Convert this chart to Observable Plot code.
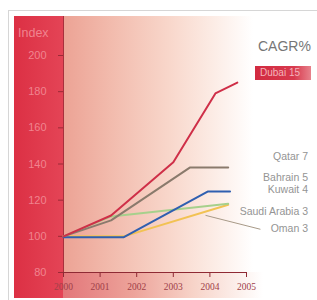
<!DOCTYPE html>
<html><head><meta charset="utf-8">
<script src="https://cdn.jsdelivr.net/npm/d3@7"></script>
<script src="https://cdn.jsdelivr.net/npm/@observablehq/plot@0.6"></script>
<style>
body{margin:0;background:#fff;}
#wrap{position:relative;width:317px;height:300px;overflow:hidden;font-family:"Liberation Sans",Arial,sans-serif;}
.bg{position:absolute;box-sizing:border-box;}
#frame{left:8px;top:10px;width:320px;height:300px;border:1px solid #d6d6d6;}
#strip{left:14px;top:16px;width:49px;height:282px;background:linear-gradient(to right,#dc3044,#e44456);}
#plotbg{left:63px;top:16px;width:190px;height:256px;border-left:1px solid #a8303c;background:linear-gradient(to right,#eca395 0%,#f2bbad 25%,#f8d6ca 55%,#fcebe4 78%,rgba(255,255,255,0) 100%);}
#axisbg{left:63px;top:272px;width:200px;height:26px;background:linear-gradient(to right,#e3777a 0%,#eda39a 35%,#f7d3c8 65%,rgba(255,255,255,0) 100%);}
#chart{position:absolute;left:0;top:0;}
#index{position:absolute;left:18px;top:26px;font-size:12.5px;color:#f0848f;}
#cagr{position:absolute;left:258px;top:38px;font-size:14px;color:#767676;}
#dubai{position:absolute;left:255px;top:66px;width:56px;height:14px;background:linear-gradient(to right,#d22a40,#d83a4e 70%,#e7828c);color:#f3b3bb;font-size:10px;line-height:14px;padding-left:5px;box-sizing:border-box;white-space:nowrap;}
.lab{position:absolute;right:9px;font-size:10.5px;color:#949494;white-space:nowrap;}
</style>
</head><body>
<div id="wrap">
  <div class="bg" id="frame"></div>
  <div class="bg" id="strip"></div>
  <div class="bg" id="plotbg"></div>
  <div class="bg" id="axisbg"></div>
  <div id="chart"></div>
  <div id="index">Index</div>
  <div id="cagr">CAGR%</div>
  <div id="dubai"></div>
</div>
<script>
// ---- data ----
const xTicks = [2000, 2001, 2002, 2003, 2004, 2005];
const yTicks = [80, 100, 120, 140, 160, 180, 200];

const seriesNames = ["Oman", "Saudi Arabia", "Kuwait", "Qatar", "Dubai"];
const seriesColors = ["#f2c253", "#a6d08c", "#2f5fb0", "#8a7a6c", "#cf2f48"];

const omanX = [2000, 2001.65, 2004.5];
const omanY = [100, 100, 117.5];
const saudiX = [2000, 2001.3, 2004.5];
const saudiY = [100, 111, 118];
const kuwaitX = [2000, 2001.65, 2003.95, 2004.55];
const kuwaitY = [99.5, 99.5, 124.8, 124.8];
const qatarX = [2000, 2001.3, 2003.45, 2004.5];
const qatarY = [100, 108.8, 138, 138];
const dubaiX = [2000, 2001.3, 2003, 2004.15, 2004.75];
const dubaiY = [100, 111.5, 141, 179, 185];

// CAGR labels
const labelNames = ["Qatar", "Bahrain", "Kuwait", "Saudi Arabia", "Oman"];
const labelCagr = [7, 5, 4, 3, 3];
const dubaiCagr = 15;

// Oman leader line (data coords)
const omanLeader = [{x1: 2003.88, y1: 111.6, x2: 2005.38, y2: 103.9}];

// ---- build table ----
const seriesXs = [omanX, saudiX, kuwaitX, qatarX, dubaiX];
const seriesYs = [omanY, saudiY, kuwaitY, qatarY, dubaiY];
const rows = [];
seriesNames.forEach((name, i) => {
  seriesXs[i].forEach((x, j) => rows.push({series: name, x, y: seriesYs[i][j]}));
});

const chart = Plot.plot({
  width: 317, height: 300,
  marginLeft: 63, marginRight: 71, marginTop: 55, marginBottom: 28,
  x: {domain: [2000, 2005], label: null},
  y: {domain: [80, 200], label: null},
  color: {domain: seriesNames, range: seriesColors},
  style: {background: "transparent", overflow: "visible", fontFamily: "Liberation Sans, sans-serif"},
  marks: [
    Plot.axisY({ticks: yTicks, tickSize: 5, tickPadding: 12, stroke: "#9c2a36", fill: "#f0848f", fontSize: 11, label: null}),
    Plot.axisX({ticks: xTicks, tickSize: 5, tickPadding: 6, tickFormat: d => String(d), stroke: "#8f2a34", fill: "#a04048", fontSize: 9.5, fontFamily: "Liberation Serif", label: null}),
    Plot.ruleY([80], {stroke: "#8f2a34", strokeWidth: 1.2}),
    Plot.link(omanLeader, {x1: "x1", y1: "y1", x2: "x2", y2: "y2", stroke: "#a89a88", strokeWidth: 1}),
    Plot.line(rows, {x: "x", y: "y", z: "series", stroke: "series", strokeWidth: 2, strokeLinejoin: "round"})
  ]
});
document.getElementById("chart").appendChild(chart);

document.getElementById("dubai").textContent = "Dubai " + dubaiCagr;
const labelTops = [150, 171, 183, 205, 222];
const wrap = document.getElementById("wrap");
labelNames.forEach((n, i) => {
  const d = document.createElement("div");
  d.className = "lab";
  d.style.top = labelTops[i] + "px";
  d.textContent = n + " " + labelCagr[i];
  wrap.appendChild(d);
});
</script>
</body></html>
